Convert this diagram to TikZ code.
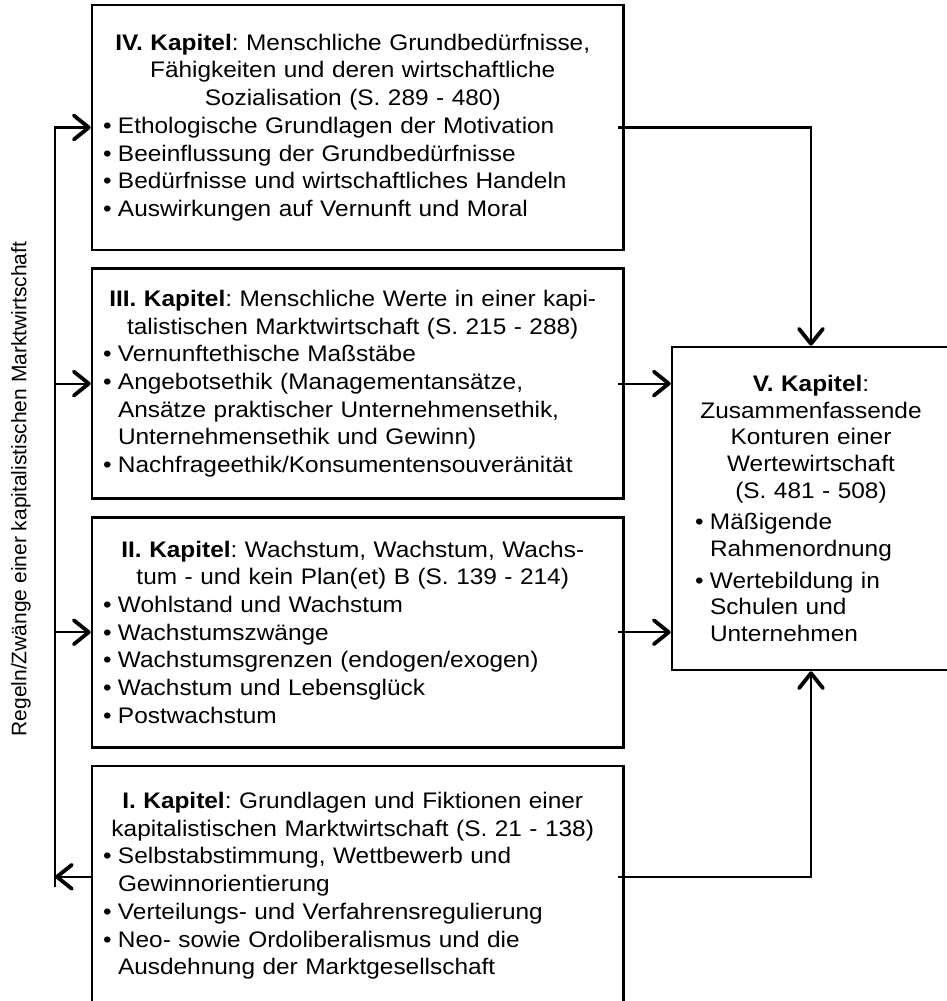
\documentclass[tikz,border=0pt]{standalone}
\usepackage{fontspec}
\setmainfont[FakeStretch=1.085]{Liberation Sans}
\newfontfamily\seitenfont{Liberation Sans}
\usepackage{tikz}
\usetikzlibrary{positioning, arrows.meta}
\frenchspacing
\newcommand{\kopf}[2][10pt]{{\centering\rightskip=#1 plus 1fil\relax #2\par}}
\newcommand{\pkt}[1]{\par\hangindent=15pt\hangafter=1\noindent\makebox[15pt][l]{\textbullet}#1\par}

\begin{document}
\begin{tikzpicture}[x=1pt, y=-1pt, node distance=16pt,
    kasten/.style={draw, line width=2.6pt, text width=509.5pt, inner xsep=11pt,
        inner ysep=0pt, align=left, font=\fontsize{22.5}{27.7}\selectfont},
    linie/.style={line width=2.2pt},
    pfeil/.style={linie, -{Straight Barb[length=15pt,width=24pt,line width=3.8pt,round]}},
]
\useasboundingbox (0,0) rectangle (947,1001);
\node[kasten, minimum height=245pt] (IV) at (357.75,127.5) {%
    \kopf{\textbf{IV. Kapitel}: Menschliche Grundbedürfnisse,\\
        Fähigkeiten und deren wirtschaftliche\\ Sozialisation (S. 289 - 480)}
    \pkt{Ethologische Grundlagen der Motivation}
    \pkt{Beeinflussung der Grundbedürfnisse}
    \pkt{Bedürfnisse und wirtschaftliches Handeln}
    \pkt{Auswirkungen auf Vernunft und Moral}};
\node[kasten, minimum height=230pt, below=of IV] (III) {%
    \kopf{\textbf{III. Kapitel}: Menschliche Werte in einer kapi-\\
        talistischen Marktwirtschaft (S. 215 - 288)}
    \pkt{Vernunftethische Maßstäbe}
    \pkt{Angebotsethik (Managementansätze,\newline Ansätze praktischer Unternehmensethik,\newline Unternehmensethik und Gewinn)}
    \pkt{Nachfrageethik/Konsumentensouveränität}};
\node[kasten, minimum height=230pt, below=of III] (II) {%
    \kopf{\textbf{II. Kapitel}: Wachstum, Wachstum, Wachs-\\
        tum - und kein Plan(et) B (S. 139 - 214)}
    \pkt{Wohlstand und Wachstum}
    \pkt{Wachstumszwänge}
    \pkt{Wachstumsgrenzen (endogen/exogen)}
    \pkt{Wachstum und Lebensglück}
    \pkt{Postwachstum}};
\node[kasten, minimum height=240pt, below=of II] (I) {%
    \kopf{\textbf{I. Kapitel}: Grundlagen und Fiktionen einer\\
        kapitalistischen Marktwirtschaft (S. 21 - 138)}
    \pkt{Selbstabstimmung, Wettbewerb und\newline Gewinnorientierung}
    \pkt{Verteilungs- und Verfahrensregulierung}
    \pkt{Neo- sowie Ordoliberalismus und die\newline Ausdehnung der Marktgesellschaft}};
\node[kasten, text width=232pt, inner xsep=23pt, minimum height=323pt,
    font=\fontsize{22.5}{26.7}\selectfont] (V) at (811,508.5) {%
    \setlength{\parskip}{5pt}%
    \kopf[0pt]{\textbf{V. Kapitel}:\\ Zusammenfassende\\ Konturen einer\\
        Wertewirtschaft\\ (S. 481 - 508)}
    \pkt{Mäßigende\newline Rahmenordnung}
    \pkt{Wertebildung in\newline Schulen und\newline Unternehmen}};
\node[rotate=90, font=\seitenfont\fontsize{21}{25}\selectfont] (regeln) at (21,489)
    {Regeln/Zwänge einer kapitalistischen Marktwirtschaft};

\coordinate (unten) at (55,887);
\draw[pfeil] (unten) -- (IV.west -| unten) -- (IV.west);
\draw[pfeil] (III.west -| unten) -- (III.west);
\draw[pfeil] (II.west -| unten) -- (II.west);
\draw[pfeil] ([yshift=9pt]I.west) -- ([yshift=9pt]I.west -| unten);

\draw[pfeil] ([xshift=-7pt]IV.east) -| (V.north);
\draw[pfeil] ([xshift=-7pt]III.east) -- (III.east -| V.west);
\draw[pfeil] ([xshift=-7pt]II.east) -- (II.east -| V.west);
\draw[pfeil] ([xshift=-7pt,yshift=9pt]I.east) -| (V.south);
\end{tikzpicture}
\end{document}
